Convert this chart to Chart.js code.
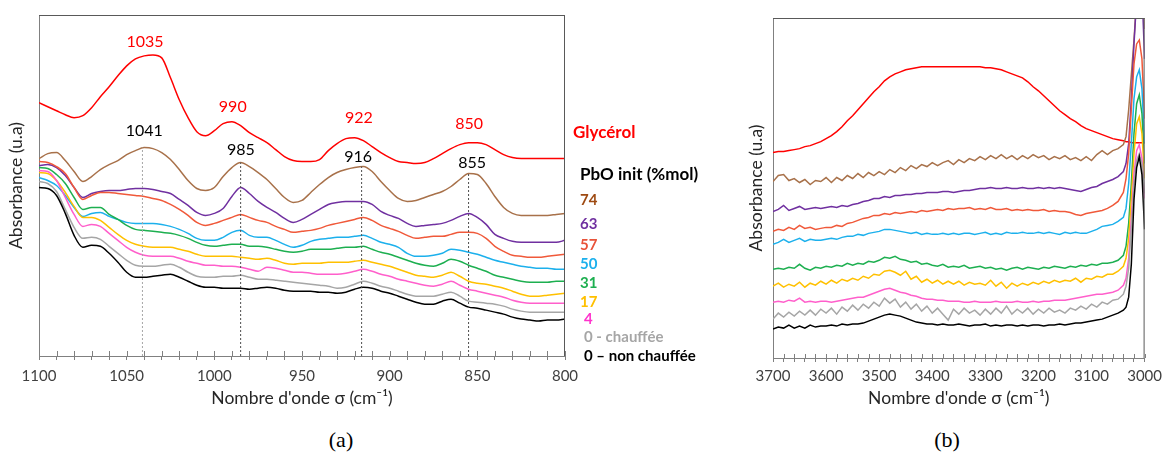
<!DOCTYPE html>
<html><head><meta charset="utf-8">
<script src="https://cdn.jsdelivr.net/npm/chart.js@4.4.1/dist/chart.umd.min.js"></script>
<style>
html,body{margin:0;padding:0;background:#fff;}
body{width:1167px;height:454px;position:relative;overflow:hidden;font-family:Lato,'Open Sans',sans-serif;}
#wa{position:absolute;left:0;top:0;width:720px;height:409px;}
#wb{position:absolute;left:735px;top:0;width:432px;height:409px;}
.lg{position:absolute;font-weight:bold;line-height:20px;white-space:nowrap;font-family:Lato,sans-serif;}
.cap{position:absolute;font-family:'Liberation Serif','Times New Roman',serif;font-size:22px;line-height:26px;transform:translateX(-50%);color:#000;}
</style></head><body>
<div id="wa"><canvas id="ca" width="720" height="409"></canvas></div>
<div id="wb"><canvas id="cb" width="432" height="409"></canvas></div>
<div class="lg" style="left:573px;top:122px;font-size:17px;color:#FF0000">Glycérol</div>
<div class="lg" style="left:580px;top:164px;font-size:17px;color:#000">PbO init (%mol)</div>
<div class="lg" style="left:580px;top:189px;font-size:15px;color:#9E4A12">74</div>
<div class="lg" style="left:580px;top:213px;font-size:15px;color:#7030A0">63</div>
<div class="lg" style="left:580px;top:234px;font-size:15px;color:#E8533A">57</div>
<div class="lg" style="left:580px;top:253px;font-size:15px;color:#1CB0EC">50</div>
<div class="lg" style="left:580px;top:272px;font-size:15px;color:#1DAF50">31</div>
<div class="lg" style="left:580px;top:291px;font-size:15px;color:#FFC000">17</div>
<div class="lg" style="left:584px;top:308px;font-size:15px;color:#FF33CC">4</div>
<div class="lg" style="left:584px;top:326px;font-size:15px;color:#A6A6A6">0 - chauffée</div>
<div class="lg" style="left:584px;top:345px;font-size:15px;color:#000">0 – non chauffée</div>
<div class="cap" style="left:341px;top:427px">(a)</div>
<div class="cap" style="left:947px;top:427px">(b)</div>
<script>
// ---------- Panel (a) : 1100-800 cm-1 ----------
const wnA = [1100,1095,1090,1085,1080,1075,1070,1065,1060,1055,1050,1045,1040,1035,1030,1025,1020,1015,1010,1005,1000,995,990,985,980,975,970,965,960,955,950,945,940,935,930,925,920,915,910,905,900,895,890,885,880,875,870,865,860,855,850,845,840,835,830,825,820,815,810,805,800];
const glyA = [254,250,246,242,239,241,249,260,270,281,291,298,301,302,299,279,257,239,225,221,226,233,235,231,224,219,214,207,200,196,195,195,197,206,213,218,219,216,210,204,199,195,194,193,194,198,203,208,212,214,214,212,207,202,199,198,198,198,198,198,198];
const p74A = [198,203,204,196,185,175,180,187,192,196,202,206,209,208,204,197,187,176,168,166,169,180,189,194,190,184,177,168,159,154,156,164,172,179,184,187,189,190,185,175,166,158,155,156,159,162,165,170,177,183,182,173,160,149,143,141,141,141,141,142,143];
const p63A = [191,192,189,181,169,159,163,165,166,166,167,168,168,167,165,163,157,151,144,141,143,148,160,169,163,155,149,144,138,134,137,142,147,152,154,155,155,155,152,145,141,138,133,130,131,132,133,136,140,143,139,132,122,118,115,114,114,114,114,114,116];
const p57A = [195,194,190,183,169,157,161,164,164,163,162,161,160,158,156,152,147,141,134,131,133,136,139,142,139,136,134,130,127,124,125,126,128,131,133,135,137,139,136,131,128,125,121,118,119,120,120,122,124,124,123,118,110,105,101,100,99,99,100,101,102];
const p50A = [179,176,171,161,149,140,143,144,140,137,134,133,133,133,132,130,127,123,118,116,116,119,124,126,121,119,119,116,112,109,111,115,117,118,119,119,120,121,118,114,112,109,103,100,100,101,103,107,106,104,102,99,96,94,92,90,89,88,88,87,87];
const p31A = [189,188,182,173,159,147,149,149,142,137,131,127,126,125,124,123,121,118,114,111,110,111,112,112,110,110,109,107,105,104,105,107,107,107,108,109,109,110,107,104,102,99,96,93,91,90,93,97,95,91,88,85,81,79,77,75,74,74,74,75,75];
const p17A = [184,183,176,164,150,139,139,136,129,122,116,112,110,109,109,109,107,105,102,100,100,100,100,99,98,97,98,96,93,92,93,93,93,94,94,94,95,96,94,92,90,87,84,81,80,79,81,84,80,75,73,72,70,68,65,62,60,60,61,62,63];
const p4A  = [186,185,176,159,142,130,132,130,123,116,109,104,101,100,100,100,98,95,93,91,91,90,90,89,87,85,89,88,86,84,84,83,82,82,82,83,85,87,85,82,80,77,75,73,71,70,72,75,71,67,65,63,61,59,56,54,53,53,53,53,53];
const p0hA = [175,173,165,147,129,118,119,117,110,103,96,91,90,90,91,92,89,84,80,79,79,80,80,81,79,77,77,76,75,74,73,72,71,70,68,69,72,75,73,70,68,65,62,60,60,60,62,64,60,55,54,53,52,50,47,45,44,44,44,44,44];
const p0A  = [169,168,161,143,121,109,111,110,103,94,84,79,79,80,81,82,79,75,71,69,69,68,68,68,67,68,69,68,66,65,65,65,64,64,63,64,67,69,68,65,63,60,57,54,52,52,55,57,53,49,48,46,44,42,39,37,36,35,36,36,37];
// peak markers (dashed lines) on the 74 % spectrum
const markWn = [1041, 985, 916, 855];
// peak labels
const glyPeaks = ['1035','990','922','850'];
const pbPeaks  = ['1041','985','916','855'];

// ---------- Panel (b) : 3700-3000 cm-1 ----------
const wnB = [3700,3690,3680,3670,3660,3650,3640,3630,3620,3610,3600,3590,3580,3570,3560,3550,3540,3530,3520,3510,3500,3490,3480,3470,3460,3450,3440,3430,3420,3410,3400,3390,3380,3370,3360,3350,3340,3330,3320,3310,3300,3290,3280,3270,3260,3250,3240,3230,3220,3210,3200,3190,3180,3170,3160,3150,3140,3130,3120,3110,3100,3090,3080,3070,3060,3050,3040,3035,3030,3025,3020,3015,3010,3005,3000];
const glyB = [206,207,207,208,209,210,212,213,215,217,220,223,227,232,238,243,249,255,261,267,272,278,282,285,287,289,290,291,292,292,292,292,292,292,292,292,292,292,292,292,291,291,290,289,287,285,283,281,277,272,268,263,258,253,248,244,240,237,233,230,228,226,224,222,220,219,218,217,217,216,216,216,216,216,216];
const p74B = [177,183,184,178,180,176,179,174,178,177,181,176,181,178,183,180,185,181,186,183,187,184,189,186,191,188,193,190,194,192,196,193,196,198,194,199,196,200,198,202,199,203,200,204,200,203,199,203,200,204,201,203,199,202,200,203,199,201,198,202,198,204,208,204,208,210,214,222,249,284,319,360,400,380,330];
const p63B = [147,149,153,148,150,152,149,150,151,150,151,152,151,153,152,154,155,157,158,160,160,162,161,163,163,164,164,165,165,166,166,166,167,167,166,167,168,168,169,170,170,171,170,170,171,170,170,171,170,170,171,170,171,170,171,170,169,168,167,169,171,172,175,177,179,182,187,195,215,260,315,360,390,370,300];
const p57B = [127,129,128,131,129,133,130,131,129,130,131,131,133,132,135,136,138,140,141,143,143,145,144,146,145,146,147,146,148,147,148,149,148,150,149,150,150,151,149,150,149,151,149,149,150,148,149,148,149,148,148,149,147,148,147,147,146,144,143,145,146,147,148,150,153,157,166,180,205,250,295,315,319,300,240];
const p50B = [114,116,119,116,118,120,117,119,118,118,119,120,119,121,122,122,124,123,125,126,127,129,129,128,127,126,125,126,124,125,124,124,125,124,125,124,125,125,124,125,126,124,125,124,126,125,125,126,125,125,126,125,126,125,124,126,125,126,125,125,127,129,132,133,134,137,141,150,175,215,260,282,289,270,215];
const p31B = [89,90,89,91,90,94,90,88,91,90,92,91,93,92,95,93,95,94,97,96,98,101,100,102,99,98,96,97,94,95,93,92,94,91,92,91,93,90,91,92,90,91,89,90,88,90,91,89,91,90,89,91,90,92,91,90,92,91,93,92,94,93,95,95,96,98,103,112,135,175,225,255,264,245,195];
const p17B = [72,75,71,74,72,76,71,75,73,77,74,78,75,79,77,80,78,82,80,84,83,87,88,86,83,87,79,82,76,79,75,78,74,77,74,77,73,76,74,75,73,78,72,76,70,75,72,75,73,76,74,77,75,78,76,78,77,80,76,80,79,82,81,84,84,87,92,100,120,160,205,235,242,225,180];
const p4B  = [56,57,56,58,57,60,56,57,56,57,57,56,57,58,59,60,61,61,63,65,67,69,70,68,66,65,63,62,60,59,59,58,58,57,57,57,56,56,57,56,56,56,57,56,56,56,57,56,56,57,56,57,57,58,58,58,59,60,61,62,63,64,64,65,66,68,73,80,100,140,185,208,214,200,160];
const p0hB = [39,45,41,46,42,47,43,48,43,49,45,50,44,51,47,53,48,54,50,56,52,60,55,59,51,56,49,54,47,52,45,50,44,38,49,44,50,45,48,43,49,44,50,45,52,44,49,45,50,44,49,45,50,46,48,45,50,48,52,49,54,51,56,54,58,59,64,72,90,130,175,198,205,195,165];
const p0B  = [29,31,30,33,30,32,30,33,31,32,32,33,32,34,33,34,34,35,37,39,41,43,44,43,42,40,38,36,35,34,34,33,34,33,33,34,33,32,33,33,34,32,33,32,33,33,32,33,32,33,33,32,33,33,34,33,34,35,35,36,37,38,39,41,43,45,48,51,61,94,159,191,202,184,129];

// ---------- styles ----------
const colors = {gly:'#FF0000', p74:'#A8714A', p63:'#7030A0', p57:'#F0593A', p50:'#1CB0EC', p31:'#1DAF50', p17:'#FFC000', p4:'#FF5FCB', p0h:'#A6A6A6', p0:'#000000'};
const seriesA = [['p0',p0A],['p0h',p0hA],['p4',p4A],['p17',p17A],['p31',p31A],['p50',p50A],['p57',p57A],['p63',p63A],['p74',p74A],['gly',glyA]];
const seriesB = [['p0',p0B],['p0h',p0hB],['p4',p4B],['p17',p17B],['p31',p31B],['p50',p50B],['p57',p57B],['p63',p63B],['p74',p74B],['gly',glyB]];
const xy = (xs, ys) => xs.map((x,i)=>({x:x, y:ys[i]}));

Chart.defaults.font.family = "Lato, 'Open Sans', sans-serif";
Chart.defaults.animation = false;

const decor = {
  id:'decor',
  afterDraw(chart, args, opts){
    const {ctx, chartArea:{left,top,right,bottom}, scales:{x,y}} = chart;
    ctx.save();
    ctx.strokeStyle = '#595959'; ctx.lineWidth = 1;
    ctx.beginPath();
    ctx.moveTo(left, top+0.5); ctx.lineTo(right, top+0.5);
    ctx.moveTo(right-0.5, top); ctx.lineTo(right-0.5, bottom);
    ctx.stroke();
    ctx.strokeStyle = '#808080';
    ctx.beginPath();
    x.ticks.forEach(t => { const px = Math.round(x.getPixelForValue(t.value))+0.5; ctx.moveTo(px, bottom); ctx.lineTo(px, bottom - opts.inner); });
    ctx.stroke();
    (opts.labels||[]).forEach(l => {
      ctx.fillStyle = l.color; ctx.font = "16px Lato, sans-serif";
      ctx.textAlign = 'center'; ctx.textBaseline = 'middle';
      ctx.fillText(l.text, x.getPixelForValue(l.x), y.getPixelForValue(l.y));
    });
    ctx.restore();
  }
};

function lineDs(key, xs, ys, tension){
  return {data: xy(xs, ys), borderColor: colors[key], borderWidth: 1.5, pointRadius: 0, fill:false,
          tension: tension, cubicInterpolationMode: tension ? 'monotone' : 'default', clip: 0};
}

// panel a datasets
const dsA = [];
markWn.forEach((w,i) => {
  let k = 0, best = 1e9;
  wnA.forEach((v,j) => { if (Math.abs(v-w) < best){best = Math.abs(v-w); k = j;} });
  dsA.push({data:[{x:w,y:0},{x:w,y:p74A[k]}], borderColor: i===0 ? '#A6A6A6' : '#4D4D4D', borderWidth:1,
            borderDash: [2,2], pointRadius:0, tension:0});
});
seriesA.forEach(([k,v]) => dsA.push(lineDs(k, wnA, v, 0.4)));

const labelsA = [
  {text:glyPeaks[0], x:1039.5, y:315, color:'#FF0000'},
  {text:glyPeaks[1], x:989.5, y:250, color:'#FF0000'},
  {text:glyPeaks[2], x:917.5, y:239, color:'#FF0000'},
  {text:glyPeaks[3], x:854.7, y:233, color:'#FF0000'},
  {text:pbPeaks[0], x:1040, y:226, color:'#000000'},
  {text:pbPeaks[1], x:984.8, y:207, color:'#000000'},
  {text:pbPeaks[2], x:918, y:200, color:'#000000'},
  {text:pbPeaks[3], x:853, y:194, color:'#000000'}
];

function xScale(min, max, step, every, tickPad, height){
  return {type:'linear', reverse:true, min:min, max:max,
    ticks:{stepSize:step, autoSkip:false, maxRotation:0, padding:tickPad, color:'#404040', font:{size:15},
      callback:(v)=> (v % every === 0 ? String(v) : '')},
    grid:{display:true, drawOnChartArea:false, drawTicks:true, tickLength:4, color:'#808080'},
    border:{display:true, color:'#808080', width:1},
    title:{display:true, text:"Nombre d'onde σ (cm⁻¹)", color:'#262626', font:{size:17.5}, padding:{top:0,bottom:0}},
    afterFit:(s)=>{ s.height = height; }};
}
function yScale(max, tpad, width){
  return {type:'linear', min:0, max:max, ticks:{display:false}, grid:{display:false},
    border:{display:true, color:'#808080', width:1},
    title:{display:true, text:'Absorbance (u.a)', color:'#262626', font:{size:17.5}, padding:{top:tpad,bottom:0}},
    afterFit:(s)=>{ s.width = width; }};
}

new Chart(document.getElementById('ca'), {
  type:'line',
  data:{datasets: dsA},
  options:{responsive:false, parsing:true,
    layout:{padding:{top:15, right:155, left:0, bottom:0}},
    plugins:{legend:{display:false}, tooltip:{enabled:false}, decor:{inner:5, labels:labelsA}},
    scales:{x:xScale(800,1100,10,50,7,53), y:yScale(342,6,39)}},
  plugins:[decor]
});

const dsB = seriesB.map(([k,v]) => lineDs(k, wnB, v, 0));
new Chart(document.getElementById('cb'), {
  type:'line',
  data:{datasets: dsB},
  options:{responsive:false,
    layout:{padding:{top:18, right:16, left:0, bottom:0}},
    plugins:{legend:{display:false}, tooltip:{enabled:false}, decor:{inner:4, labels:[]}},
    scales:{x:xScale(3000,3700,20,100,5,51), y:yScale(341,11,38)}},
  plugins:[decor]
});
</script>
</body></html>
